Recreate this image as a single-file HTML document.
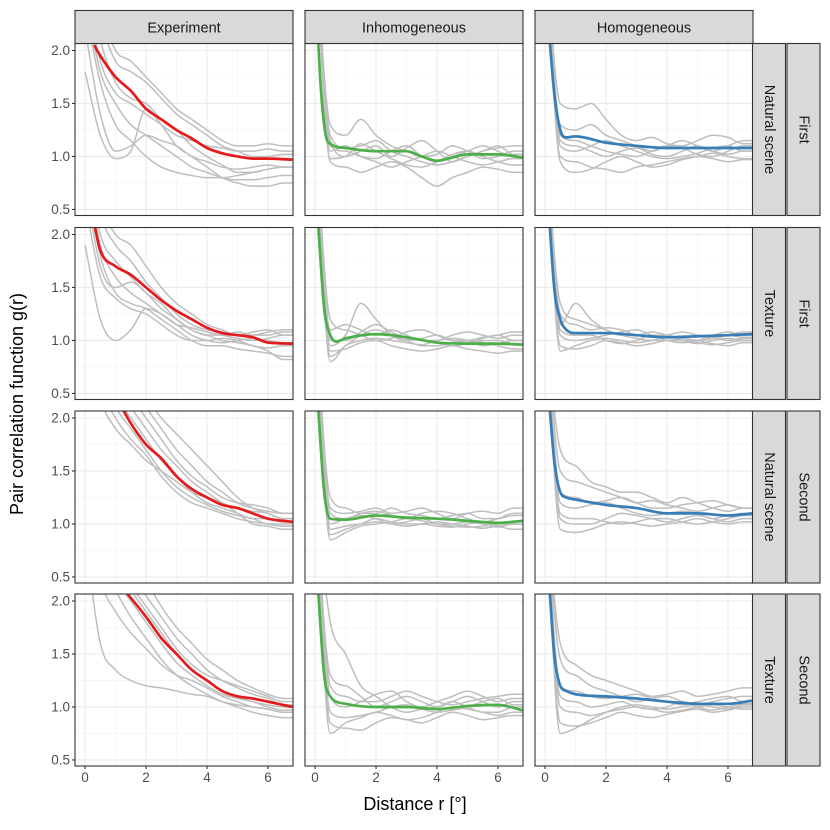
<!DOCTYPE html>
<html><head><meta charset="utf-8"><style>
body{margin:0;background:#fff}
svg{display:block;font-family:"Liberation Sans",Arial,sans-serif}
</style></head><body>
<svg id="chart" width="830" height="830" viewBox="0 0 830 830"></svg>
<script>
// ---- data ----
const columns = ["Experiment","Inhomogeneous","Homogeneous"];
const rowStrip1 = ["Natural scene","Texture","Natural scene","Texture"];
const rowStrip2 = ["First","First","Second","Second"];
const xTicks = [0,2,4,6];
const yTicks = [0.5,1.0,1.5,2.0];
const yTickLabels = ["0.5","1.0","1.5","2.0"];
const meanColors = ["#e41a1c","#4daf4a","#377eb8"];
// gray curves sampled at r = 0,0.5,...,6.5
const grayR = [0,0.5,1,1.5,2,2.5,3,3.5,4,4.5,5,5.5,6,6.5];
const grayExp1 = [
[2.6,1.9,1.6,1.5,1.4,1.3,1.2,1.15,1.1,1.08,1.05,1.05,1.07,1.05],
[2.2,1.4,1.05,1.1,1.2,1.15,1.1,1.0,0.95,0.9,0.88,0.9,0.92,0.9],
[3,2.3,1.9,1.8,1.7,1.55,1.4,1.3,1.2,1.1,1.05,1.0,1.0,1.02],
[2.5,1.8,1.5,1.3,1.2,1.1,1.0,0.9,0.85,0.8,0.78,0.78,0.8,0.82],
[2.8,2.1,1.7,1.55,1.5,1.35,1.25,1.1,1.0,0.92,0.85,0.85,0.88,0.9],
[1.8,1.2,0.98,1.05,1.45,1.3,1.1,1.0,0.9,0.8,0.75,0.72,0.72,0.75],
[3,2.4,2.0,1.9,1.75,1.6,1.45,1.35,1.25,1.15,1.1,1.1,1.12,1.1],
[2.4,1.7,1.3,1.15,1.0,0.9,0.85,0.82,0.8,0.8,0.82,0.85,0.88,0.9]];
const grayExp2 = [
[2.5,1.7,1.5,1.55,1.45,1.3,1.2,1.1,1.05,1.05,1.08,1.05,1.05,1.08],
[1.9,1.2,1.0,1.1,1.3,1.25,1.15,1.05,1.0,0.98,1.0,1.02,1.0,0.98],
[3,2.3,2.0,1.9,1.7,1.5,1.35,1.25,1.15,1.1,1.05,1.08,1.1,1.05],
[2.6,1.8,1.45,1.35,1.3,1.2,1.1,1.0,0.95,0.95,0.92,0.9,0.88,0.85],
[2.8,2.0,1.75,1.6,1.45,1.35,1.2,1.1,1.05,1.0,0.98,0.95,0.9,0.82],
[3,2.2,1.9,1.75,1.55,1.4,1.25,1.15,1.1,1.08,1.05,1.05,1.08,1.1],
[2.3,1.6,1.4,1.3,1.25,1.15,1.05,1.0,1.0,1.02,1.0,0.95,0.93,0.95],
[2.7,1.9,1.6,1.45,1.35,1.25,1.15,1.12,1.08,1.05,1.02,1.0,1.02,1.05]];
const grayExp3 = [
[3,2.6,2.3,2.1,1.9,1.7,1.55,1.4,1.3,1.2,1.15,1.12,1.1,1.05],
[3,2.2,1.9,1.75,1.6,1.5,1.4,1.3,1.25,1.2,1.1,1.0,0.98,0.95],
[3,3,2.6,2.3,2.1,1.9,1.7,1.55,1.4,1.3,1.2,1.15,1.12,1.1],
[3,2.4,2.1,1.9,1.7,1.5,1.35,1.25,1.18,1.12,1.08,1.05,1.0,1.0],
[3,2.8,2.4,2.2,2.0,1.8,1.6,1.45,1.35,1.25,1.2,1.18,1.15,1.1],
[3,2.5,2.2,2.0,1.8,1.6,1.45,1.3,1.2,1.15,1.1,1.05,1.05,1.02],
[3,3,2.7,2.4,2.2,2.0,1.85,1.7,1.55,1.4,1.25,1.15,1.1,1.05],
[3,2.3,2.0,1.8,1.65,1.45,1.3,1.2,1.15,1.1,1.05,1.02,1.0,0.98]];
const grayExp4 = [
[3,2.6,2.3,2.1,1.9,1.7,1.5,1.35,1.25,1.15,1.1,1.05,1.02,1.0],
[2.6,1.6,1.35,1.25,1.2,1.18,1.15,1.12,1.1,1.05,1.02,1.0,0.98,0.95],
[3,3,2.6,2.3,2.05,1.85,1.65,1.5,1.35,1.25,1.18,1.12,1.08,1.02],
[3,2.4,2.1,1.85,1.65,1.45,1.3,1.2,1.12,1.05,1.0,0.95,0.92,0.9],
[3,2.8,2.4,2.15,1.95,1.75,1.55,1.4,1.3,1.25,1.2,1.15,1.1,1.05],
[3,2.2,1.9,1.7,1.55,1.4,1.3,1.25,1.18,1.1,1.05,1.0,0.98,0.95],
[3,3,2.8,2.5,2.2,1.95,1.75,1.6,1.45,1.35,1.25,1.18,1.12,1.08],
[3,2.5,2.2,2.0,1.8,1.6,1.42,1.3,1.2,1.12,1.08,1.05,1.0,0.97]];
const grayInh1 = [
[3,1.1,1.05,1.0,0.98,1.05,1.1,1.0,0.95,1.0,1.05,1.1,1.05,1.0],
[3,1.3,1.2,1.35,1.2,1.1,1.05,1.0,1.02,1.1,1.05,0.98,1.0,1.05],
[3,0.95,0.9,0.85,0.9,0.95,0.9,0.8,0.72,0.8,0.85,0.9,0.88,0.85],
[3,1.15,1.0,1.05,1.1,1.0,1.08,1.15,1.05,0.95,1.0,1.05,1.1,1.02],
[3,1.05,1.1,1.0,0.95,0.9,0.95,1.0,1.05,1.0,0.95,0.92,0.95,0.98],
[3,1.2,1.08,1.1,1.15,1.05,1.0,0.95,0.92,0.95,1.0,1.05,1.08,1.1],
[3,0.98,1.0,1.12,1.05,0.98,0.92,0.9,0.95,1.02,1.05,1.0,0.95,0.92]];
const grayInh2 = [
[3,0.95,1.05,1.35,1.2,1.05,1.0,1.02,1.05,1.0,0.98,1.02,1.05,1.0],
[3,0.85,0.95,1.05,1.1,1.05,1.0,0.95,0.95,0.98,1.0,0.98,0.95,0.92],
[3,1.1,1.15,1.1,1.05,1.1,1.05,1.0,1.0,1.05,1.08,1.05,1.02,1.05],
[3,0.9,0.92,0.98,1.0,0.95,0.92,0.9,0.92,0.95,0.92,0.9,0.88,0.9],
[3,1.2,1.1,1.05,1.0,1.02,1.08,1.1,1.05,1.0,1.0,1.03,1.05,1.08],
[3,1.0,1.0,1.08,1.15,1.08,1.02,1.0,0.98,0.95,0.97,1.0,1.0,0.97],
[3,0.8,0.95,1.0,1.02,1.0,0.98,0.96,1.0,1.02,1.0,0.95,0.97,1.0]];
const grayInh3 = [
[3,1.15,1.1,1.12,1.15,1.1,1.12,1.15,1.1,1.05,1.1,1.12,1.1,1.15],
[3,0.95,0.98,1.0,1.02,1.0,0.98,1.0,1.02,1.0,0.98,0.96,0.98,1.0],
[3,1.25,1.15,1.1,1.1,1.15,1.1,1.08,1.05,1.08,1.1,1.05,1.05,1.08],
[3,0.9,0.95,1.0,1.05,1.02,1.0,1.0,0.98,0.97,1.0,1.02,0.98,0.95],
[3,1.1,1.05,1.1,1.12,1.08,1.05,1.1,1.12,1.1,1.05,1.02,1.05,1.1],
[3,1.0,1.05,1.08,1.05,1.0,1.02,1.05,1.0,0.98,0.97,0.98,1.0,1.02],
[3,0.85,0.92,0.98,1.0,1.02,1.05,1.03,1.0,1.0,1.02,1.0,0.97,1.0]];
const grayInh4 = [
[3,1.3,1.2,1.1,1.0,1.05,1.1,1.05,1.0,1.05,1.1,1.05,1.0,1.05],
[3,1.8,1.5,1.2,1.1,1.0,0.95,0.98,1.0,1.05,1.0,0.95,0.95,1.0],
[3,0.85,0.8,0.78,0.85,0.9,0.88,0.85,0.9,0.95,0.92,0.88,0.9,0.92],
[3,1.1,1.0,1.05,1.12,1.15,1.05,1.0,1.05,1.1,1.15,1.1,1.05,1.08],
[3,0.95,0.9,0.92,0.95,1.0,1.02,0.98,0.95,0.97,1.0,1.05,1.08,1.02],
[3,1.2,1.1,1.05,1.05,1.1,1.15,1.1,1.05,1.02,1.05,1.08,1.1,1.12],
[3,0.75,0.85,0.9,0.95,0.92,0.88,0.9,0.95,1.0,0.98,0.95,0.92,0.95]];
const grayHom1 = [
[3,1.3,1.25,1.3,1.2,1.15,1.1,1.05,1.1,1.15,1.1,1.05,1.1,1.15],
[3,1.0,0.95,0.9,0.88,0.85,0.9,0.92,0.95,0.98,1.0,0.98,0.95,0.97],
[3,1.5,1.45,1.5,1.35,1.2,1.15,1.18,1.12,1.1,1.15,1.2,1.18,1.12],
[3,1.15,1.1,1.05,1.0,1.05,1.08,1.02,1.0,1.05,1.1,1.05,1.02,1.05],
[3,1.1,1.05,1.1,1.15,1.1,1.05,1.0,0.98,1.0,1.03,1.08,1.1,1.05],
[3,1.2,1.15,1.1,1.05,1.02,1.0,1.05,1.1,1.08,1.02,1.0,1.05,1.1],
[3,0.95,0.85,0.88,0.95,1.0,0.95,0.9,0.92,0.97,1.0,1.03,1.0,0.98]];
const grayHom2 = [
[3,1.15,1.35,1.2,1.1,1.05,1.05,1.08,1.05,1.02,1.0,1.02,1.05,1.03],
[3,0.95,0.92,0.95,1.0,0.98,0.95,0.97,1.0,1.0,0.98,0.96,0.98,1.0],
[3,1.25,1.15,1.1,1.12,1.1,1.05,1.03,1.05,1.08,1.05,1.02,1.05,1.08],
[3,1.05,1.0,1.02,1.05,1.08,1.1,1.05,1.0,0.98,1.0,1.05,1.08,1.05],
[3,0.9,0.95,1.0,1.02,1.0,0.98,1.0,1.03,1.02,1.0,0.97,0.95,0.98],
[3,1.35,1.2,1.15,1.1,1.05,1.02,1.0,1.0,1.02,1.05,1.03,1.0,1.02],
[3,1.1,1.05,1.05,1.0,0.97,1.0,1.05,1.05,1.0,0.97,1.0,1.02,1.0]];
const grayHom3 = [
[3,1.5,1.4,1.35,1.3,1.25,1.2,1.22,1.18,1.15,1.12,1.15,1.18,1.15],
[3,1.1,1.05,1.05,1.02,1.0,1.02,1.05,1.05,1.02,1.0,1.02,1.05,1.08],
[3,1.7,1.55,1.4,1.35,1.3,1.3,1.25,1.2,1.25,1.2,1.15,1.12,1.15],
[3,1.2,1.15,1.18,1.2,1.15,1.1,1.08,1.1,1.12,1.1,1.05,1.08,1.1],
[3,0.95,0.92,0.95,1.0,1.02,1.0,0.98,1.0,1.02,1.05,1.02,1.0,1.02],
[3,1.3,1.25,1.2,1.22,1.25,1.2,1.15,1.15,1.18,1.2,1.22,1.18,1.15],
[3,1.05,1.0,1.0,1.05,1.1,1.08,1.05,1.02,1.05,1.08,1.05,1.02,1.05]];
const grayHom4 = [
[3,1.45,1.3,1.2,1.15,1.1,1.05,1.08,1.1,1.05,1.02,1.05,1.08,1.1],
[3,1.0,0.95,0.92,0.95,0.98,1.0,0.98,0.95,0.97,1.0,1.02,1.0,0.98],
[3,1.6,1.4,1.3,1.25,1.2,1.15,1.1,1.12,1.15,1.1,1.12,1.15,1.18],
[3,0.85,0.82,0.85,0.9,0.95,0.92,0.9,0.93,0.96,0.98,0.95,0.97,1.0],
[3,1.2,1.15,1.1,1.08,1.1,1.12,1.08,1.05,1.02,1.05,1.08,1.1,1.05],
[3,1.1,1.05,1.0,1.02,1.05,1.0,0.98,1.0,1.05,1.0,0.97,1.0,1.03],
[3,0.75,0.8,0.88,0.95,1.0,1.02,1.0,0.98,1.0,1.02,1.0,0.98,1.02]];
const grayData = [
[grayExp1,grayInh1,grayHom1],[grayExp2,grayInh2,grayHom2],
[grayExp3,grayInh3,grayHom3],[grayExp4,grayInh4,grayHom4]];
// mean curves: r values and g values
const redR1=[0.3,0.5,1,1.5,2,2.5,3,3.5,4,4.5,5,5.5,6,6.8], redG1=[2.05,1.95,1.75,1.62,1.45,1.35,1.25,1.17,1.08,1.03,1.0,0.98,0.98,0.97];
const redR2=[0.3,0.5,1,1.5,2,2.5,3,3.5,4,4.5,5,5.5,6,6.8], redG2=[2.1,1.85,1.7,1.62,1.5,1.38,1.28,1.2,1.12,1.07,1.05,1.03,0.98,0.97];
const redR3=[1.2,1.5,2,2.5,3,3.5,4,4.5,5,5.5,6,6.8], redG3=[2.1,1.95,1.75,1.62,1.45,1.33,1.25,1.18,1.15,1.1,1.05,1.02];
const redR4=[1.3,2,2.5,3,3.5,4,4.5,5,5.5,6,6.8], redG4=[2.1,1.85,1.65,1.5,1.35,1.25,1.15,1.1,1.08,1.05,1.0];
const greenR1=[0.1,0.2,0.35,0.5,1,2,3,3.5,4,4.5,5,6,6.8], greenG1=[2.1,1.6,1.2,1.12,1.08,1.05,1.05,1.0,0.96,0.99,1.02,1.02,0.99];
const greenR2=[0.1,0.3,0.5,0.7,1,2,3,4,5,6,6.8], greenG2=[2.1,1.3,1.05,0.99,1.02,1.06,1.03,0.98,0.97,0.97,0.96];
const greenR3=[0.1,0.3,0.5,1,2,3,4,5,6,6.8], greenG3=[2.1,1.3,1.05,1.04,1.08,1.06,1.05,1.03,1.01,1.03];
const greenR4=[0.1,0.3,0.5,1,2,3,4,5,6,6.8], greenG4=[2.1,1.3,1.1,1.03,1.0,1.0,0.98,1.01,1.02,0.97];
const blueR1=[0.15,0.3,0.5,0.7,1,2,3,4,5,6,6.8], blueG1=[2.1,1.6,1.25,1.18,1.19,1.13,1.1,1.08,1.08,1.08,1.08];
const blueR2=[0.15,0.3,0.5,0.7,1,2,3,4,5,6,6.8], blueG2=[2.1,1.5,1.2,1.1,1.07,1.07,1.05,1.03,1.04,1.05,1.06];
const blueR3=[0.15,0.3,0.5,0.7,1,2,3,4,5,6,6.8], blueG3=[2.1,1.6,1.3,1.25,1.23,1.18,1.15,1.1,1.1,1.08,1.1];
const blueR4=[0.15,0.3,0.5,0.7,1,2,3,4,5,6,6.8], blueG4=[2.1,1.5,1.2,1.15,1.12,1.1,1.08,1.05,1.03,1.03,1.06];
const meanData = [
[[redR1,redG1],[greenR1,greenG1],[blueR1,blueG1]],
[[redR2,redG2],[greenR2,greenG2],[blueR2,blueG2]],
[[redR3,redG3],[greenR3,greenG3],[blueR3,blueG3]],
[[redR4,redG4],[greenR4,greenG4],[blueR4,blueG4]]];

// ---- layout ----
const NS="http://www.w3.org/2000/svg";
const svg=document.getElementById('chart');
const colLeft=[75,305,535], panelW=218;
const rowTop=[43.5,227.5,411,594], panelH=172;
const xMin=-0.33, xMax=6.82, yMin=0.443, yMax=2.066;
function mk(tag,attrs,parent){const e=document.createElementNS(NS,tag);for(const k in attrs)e.setAttribute(k,attrs[k]);(parent||svg).appendChild(e);return e;}
function monoPath(xs,ys){
  const n=xs.length; if(n<2) return '';
  const d=[],m=[];
  for(let i=0;i<n-1;i++) d.push((ys[i+1]-ys[i])/(xs[i+1]-xs[i]));
  m[0]=d[0]; m[n-1]=d[n-2];
  for(let i=1;i<n-1;i++){ m[i]=(d[i-1]*d[i]<=0)?0:(d[i-1]+d[i])/2; }
  for(let i=0;i<n-1;i++){ if(d[i]===0){m[i]=0;m[i+1]=0;continue;} const a=m[i]/d[i],b=m[i+1]/d[i],s=a*a+b*b; if(s>9){const t=3/Math.sqrt(s);m[i]=t*a*d[i];m[i+1]=t*b*d[i];} }
  let p=`M${xs[0].toFixed(2)},${ys[0].toFixed(2)}`;
  for(let i=0;i<n-1;i++){const h=(xs[i+1]-xs[i])/3;
    p+=`C${(xs[i]+h).toFixed(2)},${(ys[i]+m[i]*h).toFixed(2)} ${(xs[i+1]-h).toFixed(2)},${(ys[i+1]-m[i+1]*h).toFixed(2)} ${xs[i+1].toFixed(2)},${ys[i+1].toFixed(2)}`;}
  return p;
}
const defs=mk('defs',{});
for(let r=0;r<4;r++){
  for(let c=0;c<3;c++){
    const L=colLeft[c], T=rowTop[r];
    const sx=v=>L+(v-xMin)/(xMax-xMin)*panelW;
    const sy=v=>T+(yMax-v)/(yMax-yMin)*panelH;
    const g=mk('g',{});
    
    
    mk('rect',{x:L,y:T,width:panelW,height:panelH,fill:'#fff'},g);
    const cp=mk('clipPath',{id:`cp${r}${c}`},defs);
    mk('rect',{x:L,y:T,width:panelW,height:panelH},cp);
    [1,3,5].forEach(v=>mk('line',{x1:sx(v),x2:sx(v),y1:T,y2:T+panelH,stroke:'#f2f2f2','stroke-width':0.6},g));
    [0.75,1.25,1.75].forEach(v=>mk('line',{x1:L,x2:L+panelW,y1:sy(v),y2:sy(v),stroke:'#f2f2f2','stroke-width':0.6},g));
    xTicks.forEach(v=>mk('line',{x1:sx(v),x2:sx(v),y1:T,y2:T+panelH,stroke:'#ebebeb','stroke-width':1.1},g));
    yTicks.forEach(v=>mk('line',{x1:L,x2:L+panelW,y1:sy(v),y2:sy(v),stroke:'#ebebeb','stroke-width':1.1},g));
    const lg=mk('g',{'clip-path':`url(#cp${r}${c})`},g);
    grayData[r][c].forEach((arr,i)=>{
      const xs=grayR.map(sx).concat([sx(6.85)]), ys=arr.map(sy).concat([sy(arr[arr.length-1])]);
      const p=mk('path',{d:monoPath(xs,ys),fill:'none',stroke:'#bebebe','stroke-width':1.5},lg);
      
      
    });
    const md=meanData[r][c];
    const mp=mk('path',{d:monoPath(md[0].map(sx),md[1].map(sy)),fill:'none',stroke:meanColors[c],'stroke-width':2.7},lg);
    
    
    mk('rect',{x:L,y:T,width:panelW,height:panelH,fill:'none',stroke:'#333','stroke-width':1.1},g);
    if(c===0){
      yTicks.forEach((v,i)=>{
        mk('line',{x1:L-3,x2:L,y1:sy(v),y2:sy(v),stroke:'#333','stroke-width':1.1},g);
        const t=mk('text',{x:L-5,y:sy(v)+4.6,'text-anchor':'end','font-size':13.5,fill:'#4d4d4d'},g);
        t.textContent=yTickLabels[i];
        
        
      });
    }
    if(r===3){
      xTicks.forEach(v=>{
        mk('line',{x1:sx(v),x2:sx(v),y1:T+panelH,y2:T+panelH+3,stroke:'#333','stroke-width':1.1},g);
        const t=mk('text',{x:sx(v),y:T+panelH+16,'text-anchor':'middle','font-size':13.5,fill:'#4d4d4d'},g);
        t.textContent=String(v);
        
        
      });
    }
    if(r===0){
      const sg=mk('g',{},svg);
      
      
      mk('rect',{x:L,y:10.5,width:panelW,height:33,fill:'#d9d9d9',stroke:'#333','stroke-width':1.1},sg);
      const t=mk('text',{x:L+panelW/2,y:32.5,'text-anchor':'middle','font-size':14.5,fill:'#1a1a1a'},sg);
      t.textContent=columns[c];
    }
    if(c===2){
      [[752,rowStrip1[r]],[786.5,rowStrip2[r]]].forEach(([sxp,lab])=>{
        const sg=mk('g',{},svg);
        
        
        mk('rect',{x:sxp+0.5,y:T,width:33,height:panelH,fill:'#d9d9d9',stroke:'#333','stroke-width':1.1},sg);
        const cx=sxp+17, cy=T+panelH/2;
        const t=mk('text',{x:cx,y:cy,'text-anchor':'middle','dominant-baseline':'central','font-size':14.5,fill:'#1a1a1a',transform:`rotate(90 ${cx} ${cy})`},sg);
        t.textContent=lab;
      });
    }
  }
}
const xt=mk('text',{x:305+110,y:810,'text-anchor':'middle','font-size':18,fill:'#000'});
xt.textContent='Distance r [°]';


const yt=mk('text',{x:23,y:404,'text-anchor':'middle','font-size':18,fill:'#000',transform:'rotate(-90 23 404)'});
yt.textContent='Pair correlation function g(r)';


</script>
</body></html>
